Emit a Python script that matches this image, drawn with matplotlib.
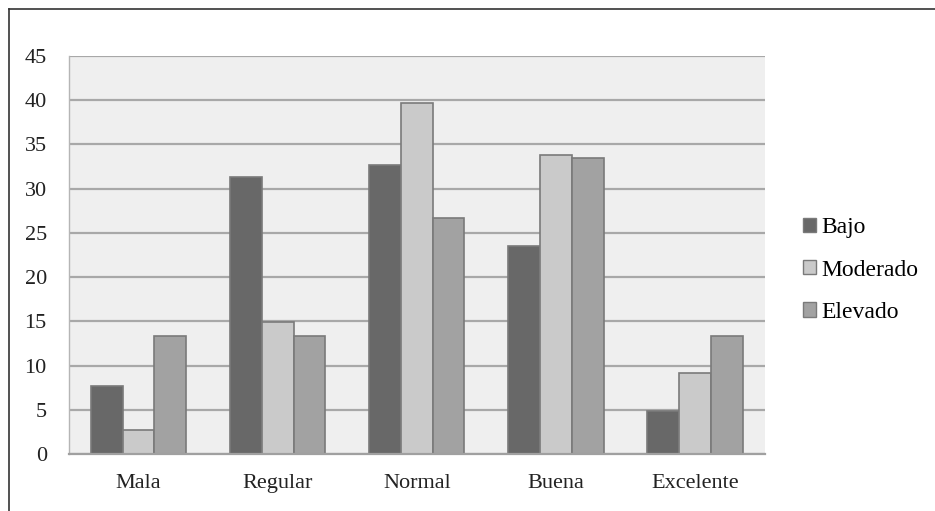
import numpy as np
import matplotlib.pyplot as plt
from matplotlib.lines import Line2D
from matplotlib.patches import Patch

# Data
categorias = ['Mala', 'Regular', 'Normal', 'Buena', 'Excelente']
series = ['Bajo', 'Moderado', 'Elevado']
bajo = [7.7, 31.3, 32.7, 23.5, 4.9]
moderado = [2.7, 14.9, 39.7, 33.8, 9.2]
elevado = [13.3, 13.3, 26.7, 33.4, 13.3]
yticks = [0, 5, 10, 15, 20, 25, 30, 35, 40, 45]

colores = ['#686868', '#cacaca', '#a2a2a2']
borde = '#7a7a7a'

plt.rcParams['font.family'] = ['Liberation Serif', 'DejaVu Serif']

fig = plt.figure(figsize=(9.35, 5.11), dpi=100)
ax = fig.add_axes([0.0738, 0.111, 0.744, 0.780])
ax.set_facecolor('#efefef')

x = np.arange(len(categorias))
w = 0.228
for i, (vals, nombre) in enumerate(zip([bajo, moderado, elevado], series)):
    ax.bar(x + (i - 1) * w, vals, width=w, color=colores[i],
           edgecolor=borde, linewidth=1.2, label=nombre, zorder=3)

ax.set_xlim(-0.5, len(categorias) - 0.5)
ax.set_ylim(0, 45)
ax.set_yticks(yticks)
ax.set_xticks(x)
ax.set_xticklabels(categorias)
ax.yaxis.grid(True, color='#a8a8a8', linewidth=1.6, zorder=1)
ax.set_axisbelow(True)
ax.tick_params(axis='both', length=0, labelsize=16, colors='#222222')
ax.tick_params(axis='y', pad=16)
ax.tick_params(axis='x', pad=14)

for s in ['top', 'right']:
    ax.spines[s].set_visible(False)
ax.spines['left'].set_color('#b5b5b5')
ax.spines['left'].set_linewidth(1.0)
ax.spines['bottom'].set_color('#a0a0a0')
ax.spines['bottom'].set_linewidth(1.6)
ax.spines['bottom'].set_zorder(4)

handles = [Patch(facecolor=c, edgecolor=borde, linewidth=1.0) for c in colores]
leg = ax.legend(handles, series, loc='center left', bbox_to_anchor=(1.025, 0.462),
                frameon=False, fontsize=17, handlelength=0.55, handleheight=0.55,
                handletextpad=0.2, labelspacing=0.9)

# outer frame (left and top edges only)
fig.add_artist(Line2D([9 / 935, 9 / 935], [0, 1 - 9 / 511],
                      transform=fig.transFigure, color='#333333', linewidth=1.2))
fig.add_artist(Line2D([9 / 935, 1], [1 - 9 / 511, 1 - 9 / 511],
                      transform=fig.transFigure, color='#333333', linewidth=1.2))

fig.savefig('out.png', dpi=100)
